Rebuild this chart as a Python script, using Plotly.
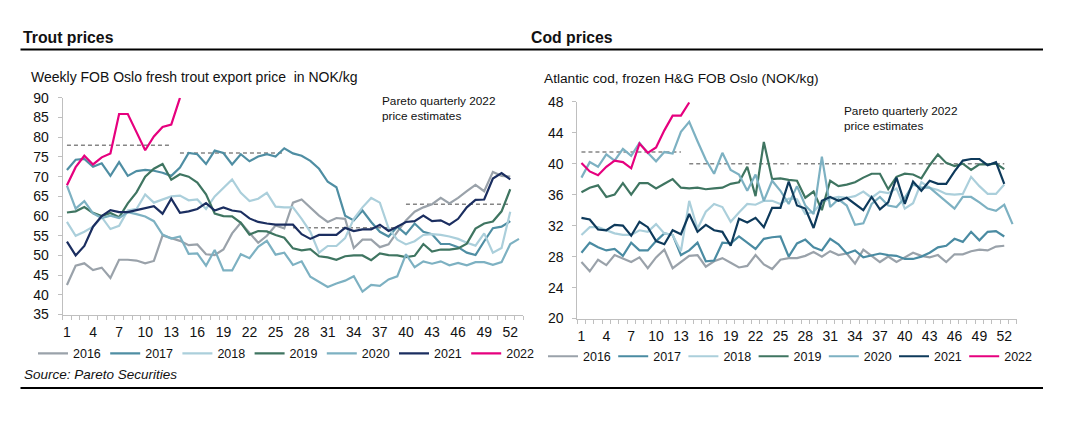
import plotly.graph_objects as go

W, H = 1078, 433
FONT = "Arial, Liberation Sans, sans-serif"

weeks = list(range(1, 53))
weeks_53 = list(range(1, 54))
weeks_2022 = list(range(1, 15))
years = ["2016", "2017", "2018", "2019", "2020", "2021", "2022"]

# quarterly Pareto estimates (start week, end week)
q_start = [1, 14, 27, 40]
q_end = [13, 26, 39, 52]
trout_est = [78, 76, 57, 63]
cod_est = [41.5, 40, 40, 40]

# weekly FOB Oslo fresh trout export price, NOK/kg
trout_2016 = [42.5, 47.4, 48.0, 46.3, 46.9, 44.3, 48.9, 48.9, 48.7, 48.0, 48.6, 55.1, 54.4,
              53.7, 52.6, 52.8, 50.3, 50.1, 51.5, 55.6, 58.3, 55.8, 53.2, 55.0, 57.6, 56.9,
              63.4, 64.2, 62.2, 60.1, 58.5, 59.5, 59.3, 51.9, 54.0, 54.0, 52.1, 52.8, 56.0,
              58.9, 61.1, 62.2, 63.0, 64.6, 63.2, 64.6, 66.3, 67.9, 66.3, 71.2, 70.2, 70.0]
trout_2017 = [71.7, 74.3, 74.5, 72.5, 73.4, 70.2, 73.7, 70.2, 71.4, 71.7, 71.5, 71.0, 70.2,
              72.3, 76.0, 75.7, 73.2, 76.6, 76.0, 73.1, 75.7, 73.9, 75.1, 75.7, 75.1, 77.2,
              75.9, 75.3, 74.0, 72.0, 68.7, 67.3, 60.1, 58.9, 61.4, 58.5, 56.0, 54.8, 57.3,
              55.4, 58.1, 56.0, 55.4, 52.9, 52.9, 52.1, 50.7, 50.1, 53.6, 56.9, 57.3, 58.7]
trout_2018 = [58.5, 55.0, 56.0, 57.3, 59.7, 56.7, 57.5, 61.4, 61.8, 65.5, 63.4, 64.2, 65.0,
              65.2, 64.0, 64.2, 61.8, 65.0, 67.1, 69.3, 65.9, 63.8, 64.4, 65.9, 62.4, 62.2,
              62.2, 59.3, 56.0, 50.7, 52.4, 52.4, 54.4, 59.3, 62.2, 64.6, 63.4, 56.9, 54.0,
              52.8, 53.6, 55.2, 55.4, 55.2, 54.8, 54.2, 53.2, 52.5, 55.6, 50.7, 51.9, 61.1]
trout_2019 = [60.9, 61.2, 62.3, 60.8, 60.0, 60.8, 59.7, 63.2, 66.0, 70.0, 72.0, 73.2, 69.2,
              70.6, 70.0, 68.5, 65.5, 60.6, 60.0, 59.9, 58.3, 55.3, 56.2, 56.1, 55.2, 54.5,
              51.8, 51.3, 51.6, 49.8, 49.5, 48.9, 49.8, 50.0, 50.0, 48.8, 50.5, 50.1, 50.0,
              49.6, 49.9, 52.9, 51.0, 51.5, 51.5, 51.8, 53.0, 56.8, 58.1, 58.6, 61.2, 66.8]
trout_2020 = [67.7, 61.9, 63.8, 60.7, 59.5, 60.1, 59.5, 61.0, 60.5, 59.9, 58.7, 55.3, 54.3,
              54.8, 50.4, 50.5, 47.4, 51.4, 46.2, 46.2, 50.3, 49.3, 52.2, 53.7, 50.2, 50.7,
              47.6, 48.5, 44.6, 43.2, 42.0, 42.9, 43.6, 44.7, 40.8, 42.5, 42.3, 43.9, 44.7,
              50.3, 47.0, 48.5, 47.9, 48.5, 47.5, 48.1, 47.5, 48.3, 48.3, 47.6, 48.3, 52.9, 54.2]
trout_2021 = [53.5, 50.0, 52.4, 57.3, 60.0, 61.5, 61.0, 61.0, 61.5, 62.0, 62.5, 60.6, 64.4,
              60.8, 61.2, 61.8, 63.3, 61.4, 62.2, 61.4, 61.1, 59.4, 58.5, 58.1, 57.8, 57.8,
              57.8, 55.4, 54.2, 55.2, 55.2, 55.2, 57.0, 56.2, 56.6, 56.6, 57.8, 56.2, 57.3,
              58.5, 58.7, 60.1, 58.7, 58.9, 57.8, 59.3, 62.2, 64.1, 64.2, 69.5, 70.9, 69.3]
trout_2022 = [67.8, 72.4, 75.3, 73.1, 74.9, 75.9, 85.9, 85.9, 81.3, 76.7, 80.2, 82.6, 83.2, 90.0]

# Atlantic cod, frozen H&G FOB Oslo, NOK/kg
cod_2016 = [27.3, 26.1, 27.6, 26.9, 28.2, 27.7, 27.3, 27.9, 26.5, 27.9, 28.9, 26.5, 27.3,
            28.1, 28.2, 26.7, 27.4, 27.8, 27.2, 26.6, 26.8, 28.2, 27.0, 26.4, 27.6, 27.8,
            27.8, 28.1, 28.6, 28.0, 28.7, 28.2, 28.4, 27.1, 28.9, 28.1, 27.3, 28.0, 27.3,
            27.9, 28.5, 28.1, 27.9, 28.2, 27.3, 28.3, 28.3, 28.7, 28.9, 28.8, 29.3, 29.4]
cod_2017 = [28.5, 29.8, 29.2, 28.8, 29.0, 28.1, 29.8, 28.8, 28.8, 30.0, 31.0, 30.8, 28.2,
            28.8, 29.8, 27.4, 27.5, 29.8, 29.7, 30.6, 29.8, 29.0, 30.3, 30.5, 30.6, 28.0,
            29.7, 30.2, 29.2, 28.8, 30.3, 29.6, 28.4, 28.8, 27.9, 28.2, 28.4, 28.2, 28.1,
            27.7, 27.7, 28.0, 28.5, 29.2, 29.4, 30.3, 29.9, 31.2, 30.1, 31.2, 31.3, 30.6]
cod_2018 = [30.8, 31.8, 31.8, 31.4, 31.0, 30.8, 30.8, 31.4, 31.2, 32.2, 31.0, 30.8, 28.7,
            35.2, 31.6, 33.8, 34.8, 34.4, 32.5, 33.7, 34.8, 34.7, 35.2, 35.2, 34.8, 35.5,
            35.4, 33.5, 33.8, 35.0, 35.5, 35.7, 35.6, 35.8, 36.4, 35.6, 36.4, 36.2, 36.8,
            34.2, 34.9, 37.6, 36.9, 36.6, 36.1, 36.0, 36.1, 38.3, 37.1, 36.1, 36.1, 37.3]
cod_2019 = [36.3, 36.9, 37.2, 35.7, 36.0, 37.5, 36.0, 37.5, 37.5, 36.8, 37.4, 38.0, 36.9,
            36.8, 36.9, 36.7, 36.8, 36.9, 37.4, 37.6, 39.6, 35.8, 42.8, 38.0, 38.1, 37.9,
            37.8, 35.6, 36.4, 34.0, 37.8, 37.1, 37.3, 37.6, 38.2, 38.7, 38.7, 36.7, 38.3,
            38.7, 38.6, 38.1, 39.8, 41.2, 40.1, 39.7, 40.0, 39.2, 39.9, 39.9, 40.0, 39.3]
cod_2020 = [38.2, 40.2, 39.6, 41.2, 40.4, 41.9, 41.0, 42.7, 41.4, 40.3, 41.5, 41.3, 44.1,
            45.4, 42.9, 40.5, 38.7, 41.4, 39.2, 38.6, 36.5, 38.6, 35.2, 37.8, 36.5, 34.8,
            37.1, 34.6, 33.5, 40.9, 34.4, 35.4, 34.6, 32.1, 32.3, 34.8, 35.7, 34.6, 34.4,
            35.6, 37.3, 36.9, 36.9, 36.0, 35.2, 34.2, 35.7, 35.7, 35.0, 34.2, 33.9, 34.7, 32.2]
cod_2021 = [33.0, 32.8, 31.5, 31.4, 32.1, 32.0, 30.7, 32.5, 31.8, 30.0, 29.6, 31.4, 30.9,
            33.5, 31.2, 32.1, 31.4, 31.2, 29.4, 32.9, 32.4, 33.0, 31.8, 34.3, 34.3, 37.7,
            34.6, 34.2, 31.7, 35.2, 35.7, 35.2, 35.6, 34.8, 34.0, 35.7, 34.1, 35.0, 38.2,
            34.8, 37.7, 36.5, 37.8, 37.4, 37.4, 39.0, 40.4, 40.6, 40.6, 39.8, 40.2, 37.4]
cod_2022 = [40.1, 39.0, 38.5, 39.6, 40.4, 40.2, 39.4, 42.6, 41.4, 42.1, 44.3, 46.2, 46.2, 47.9]

trout = [trout_2016, trout_2017, trout_2018, trout_2019, trout_2020, trout_2021, trout_2022]
cod = [cod_2016, cod_2017, cod_2018, cod_2019, cod_2020, cod_2021, cod_2022]

colors_trout = ["#9aa2aa", "#4f8ea3", "#abcfdb", "#3f7561", "#7db1c2", "#1b2e60", "#e6007e"]
colors_cod = ["#9aa2aa", "#4a8ba2", "#abcfdb", "#3f7561", "#7db1c2", "#0e3a5b", "#e6007e"]


def px_x(p):
    return p / W


def px_y(p):
    return 1 - p / H


def xs_for(series):
    if len(series) == 53:
        return weeks_53
    if len(series) == 14:
        return weeks_2022
    return weeks


fig = go.Figure()

# dashed quarterly estimate lines
for est, xa, ya in [(trout_est, "x", "y"), (cod_est, "x2", "y2")]:
    for s, e, v in zip(q_start, q_end, est):
        fig.add_trace(go.Scatter(x=[s, e], y=[v, v], mode="lines", xaxis=xa, yaxis=ya,
                                 line=dict(color="#858585", width=1.5, dash="4px,3px"),
                                 showlegend=False, hoverinfo="skip"))

for name, ser, col in zip(years, trout, colors_trout):
    fig.add_trace(go.Scatter(x=xs_for(ser), y=ser, name=name, mode="lines",
                             line=dict(color=col, width=2.2), xaxis="x", yaxis="y",
                             legend="legend"))

for name, ser, col in zip(years, cod, colors_cod):
    fig.add_trace(go.Scatter(x=xs_for(ser), y=ser, name=name, mode="lines",
                             line=dict(color=col, width=2.2), xaxis="x2", yaxis="y2",
                             legend="legend2"))

tick_font = dict(family=FONT, size=14, color="#111111")
xticks = list(range(1, 53, 3))
xaxis_common = dict(range=[0.5, 53.5], tickvals=xticks, ticktext=[str(t) for t in xticks],
                    showgrid=False, zeroline=False, showline=True, linecolor="#bfbfbf",
                    linewidth=1, ticks="", tickfont=tick_font, ticklabelstandoff=5,
                    minor=dict(ticks="outside", tick0=0.5, dtick=1, ticklen=4,
                               tickcolor="#bfbfbf", showgrid=False))
yaxis_common = dict(showgrid=False, zeroline=False, showline=True, linecolor="#bfbfbf",
                    linewidth=1, ticks="outside", ticklen=4, tickcolor="#bfbfbf",
                    tickfont=tick_font, ticklabelstandoff=6)

legend_font = dict(family=FONT, size=12.5, color="#111111")
fig.update_layout(
    width=W, height=H,
    margin=dict(l=0, r=0, t=0, b=0),
    paper_bgcolor="white", plot_bgcolor="white",
    font=dict(family=FONT, color="#111111"),
    xaxis=dict(domain=[px_x(62.6), px_x(523.3)], anchor="y", **xaxis_common),
    yaxis=dict(domain=[px_y(318.3), px_y(93.3)], anchor="x", range=[35, 90], dtick=5,
               **yaxis_common),
    xaxis2=dict(domain=[px_x(577.3), px_x(1016.7)], anchor="y2", **xaxis_common),
    yaxis2=dict(domain=[px_y(322.5), px_y(97.3)], anchor="x2", range=[20, 48], dtick=4,
                **yaxis_common),
    legend=dict(orientation="h", x=px_x(33), y=px_y(359), xanchor="left", yanchor="middle",
                entrywidth=27.2, entrywidthmode="pixels", itemwidth=30,
                font=legend_font, bgcolor="rgba(0,0,0,0)", traceorder="normal"),
    legend2=dict(orientation="h", x=px_x(543), y=px_y(362), xanchor="left", yanchor="middle",
                 entrywidth=25.2, entrywidthmode="pixels", itemwidth=30,
                 font=legend_font, bgcolor="rgba(0,0,0,0)", traceorder="normal"),
    showlegend=True,
)

# header / footer rules
fig.add_shape(type="line", xref="paper", yref="paper", x0=px_x(20.5), x1=px_x(1043),
              y0=px_y(43), y1=px_y(43), line=dict(color="black", width=2))
fig.add_shape(type="line", xref="paper", yref="paper", x0=px_x(20.5), x1=px_x(1043),
              y0=px_y(394.5), y1=px_y(394.5), line=dict(color="black", width=2))

texts = [
    ("Trout prices", 21, 30.5, 15.8, True, False),
    ("Cod prices", 529, 30.5, 15.8, True, False),
    ("Weekly FOB Oslo fresh trout export price  in NOK/kg", 29, 71.5, 14, False, False),
    ("Atlantic cod, frozen H&G FOB Oslo (NOK/kg)", 542, 73, 13.7, False, False),
    ("Pareto quarterly 2022<br>price estimates", 380, 104, 11.8, False, False),
    ("Pareto quarterly 2022<br>price estimates", 842, 115, 11.8, False, False),
    ("Source: Pareto Securities", 22, 381, 13.5, False, True),
]
for txt, x, y, size, bold, italic in texts:
    if bold:
        txt = "<b>" + txt + "</b>"
    if italic:
        txt = "<i>" + txt + "</i>"
    fig.add_annotation(text=txt, xref="paper", yref="paper", x=px_x(x), y=px_y(y),
                       xanchor="left", yanchor="middle", showarrow=False, align="left",
                       font=dict(family=FONT, size=size, color="#111111"))

fig.write_html("out.html", config={"displayModeBar": False},
               post_script="document.body.style.margin='0';")
